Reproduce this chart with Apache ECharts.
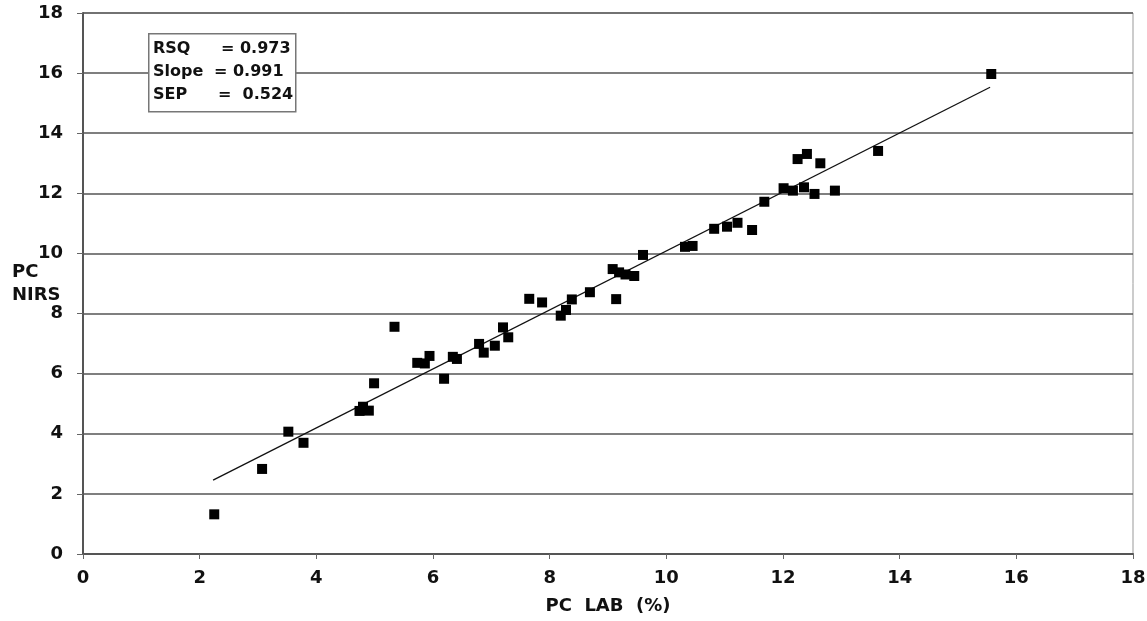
<!DOCTYPE html>
<html>
<head>
<meta charset="utf-8">
<script src="https://cdn.jsdelivr.net/npm/echarts@6/dist/echarts.min.js"></script>
<style>
html,body{margin:0;padding:0;background:#fff;}
#chart{width:1147px;height:621px;}
</style>
</head>
<body>
<div id="chart"></div>
<script>
// PC LAB (%) values
var labX = [2.25, 3.07, 3.52, 3.78, 4.74, 4.80, 4.90, 4.99, 5.34, 5.73, 5.86, 5.94, 6.19, 6.34, 6.41,
  6.79, 6.87, 7.06, 7.20, 7.29, 7.65, 7.87, 8.19, 8.28, 8.38, 8.69, 9.14, 9.08, 9.19, 9.30, 9.45, 9.60,
  10.32, 10.45, 10.82, 11.04, 11.22, 11.47, 11.68, 12.01, 12.17, 12.36, 12.54, 12.89, 12.25, 12.41, 12.64,
  13.63, 15.57];
// PC NIRS values
var nirsY = [1.32, 2.83, 4.07, 3.70, 4.76, 4.90, 4.77, 5.68, 7.56, 6.36, 6.34, 6.59, 5.83, 6.56, 6.49,
  6.99, 6.70, 6.93, 7.54, 7.21, 8.49, 8.37, 7.93, 8.12, 8.47, 8.71, 8.48, 9.48, 9.37, 9.30, 9.25, 9.95,
  10.22, 10.25, 10.82, 10.89, 11.02, 10.78, 11.72, 12.17, 12.09, 12.20, 11.98, 12.09, 13.14, 13.31, 13.00,
  13.41, 15.97];
// fitted regression line end points
var fitX = [2.23, 15.55];
var fitY = [2.46, 15.53];
// statistics box
var statNames = ['RSQ', 'Slope', 'SEP'];
var statValues = ['= 0.973', '= 0.991', '=  0.524'];
var xTicks = [0, 2, 4, 6, 8, 10, 12, 14, 16, 18];
var yTicks = [0, 2, 4, 6, 8, 10, 12, 14, 16, 18];
var xName = 'PC  LAB  (%)';
var yName = 'PC\nNIRS';

var FONT = '"DejaVu Sans", "Liberation Sans", Arial, sans-serif';
var pts = labX.map(function (x, i) { return [x, nirsY[i]]; });
var fit = fitX.map(function (x, i) { return [x, fitY[i]]; });

var statOffsets = [221, 214, 218];
var graphics = [{
  type: 'rect', left: 148, top: 33, z: 10,
  shape: { width: 147, height: 78 },
  style: { fill: '#fff', stroke: '#777', lineWidth: 1.5 }
}, {
  type: 'text', left: 12, top: 261, z: 11,
  style: { text: yName, font: 'bold 18px ' + FONT, fill: '#111', lineHeight: 23 }
}];
statNames.forEach(function (n, i) {
  graphics.push({ type: 'text', left: 153, top: 41 + i * 23, z: 11,
    style: { text: n, font: 'bold 16px ' + FONT, fill: '#111' } });
  graphics.push({ type: 'text', left: statOffsets[i], top: 41 + i * 23, z: 11,
    style: { text: statValues[i], font: 'bold 16px ' + FONT, fill: '#111' } });
});

var chart = echarts.init(document.getElementById('chart'), null, { renderer: 'canvas' });
chart.setOption({
  animation: false,
  backgroundColor: '#fff',
  grid: { left: 83, right: 14, top: 13, bottom: 67, show: true, borderColor: '#999', borderWidth: 1,
    containLabel: false, outerBoundsMode: 'none' },
  xAxis: {
    type: 'value', min: xTicks[0], max: xTicks[xTicks.length - 1], interval: 2,
    axisLine: { lineStyle: { color: '#555', width: 2 } },
    axisTick: { show: true, length: 5, lineStyle: { color: '#666' } },
    axisLabel: { margin: 15, color: '#111', fontWeight: 'bold', fontSize: 18, fontFamily: FONT },
    splitLine: { show: false },
    name: xName, nameLocation: 'middle', nameGap: 43,
    nameTextStyle: { color: '#111', fontWeight: 'bold', fontSize: 18, fontFamily: FONT }
  },
  yAxis: {
    type: 'value', min: yTicks[0], max: yTicks[yTicks.length - 1], interval: 2,
    axisLine: { show: true, lineStyle: { color: '#555', width: 2 } },
    axisTick: { show: true, length: 6, lineStyle: { color: '#666' } },
    axisLabel: { margin: 20, color: '#111', fontWeight: 'bold', fontSize: 18, fontFamily: FONT },
    splitLine: { show: true, lineStyle: { color: '#555', width: 1.5 } }
  },
  series: [
    { type: 'line', data: fit, symbol: 'none', z: 3,
      lineStyle: { color: '#111', width: 1.3 } },
    { type: 'scatter', data: pts, symbol: 'rect', symbolSize: 10, z: 4,
      itemStyle: { color: '#000', opacity: 1 } }
  ],
  graphic: graphics
});
</script>
</body>
</html>
